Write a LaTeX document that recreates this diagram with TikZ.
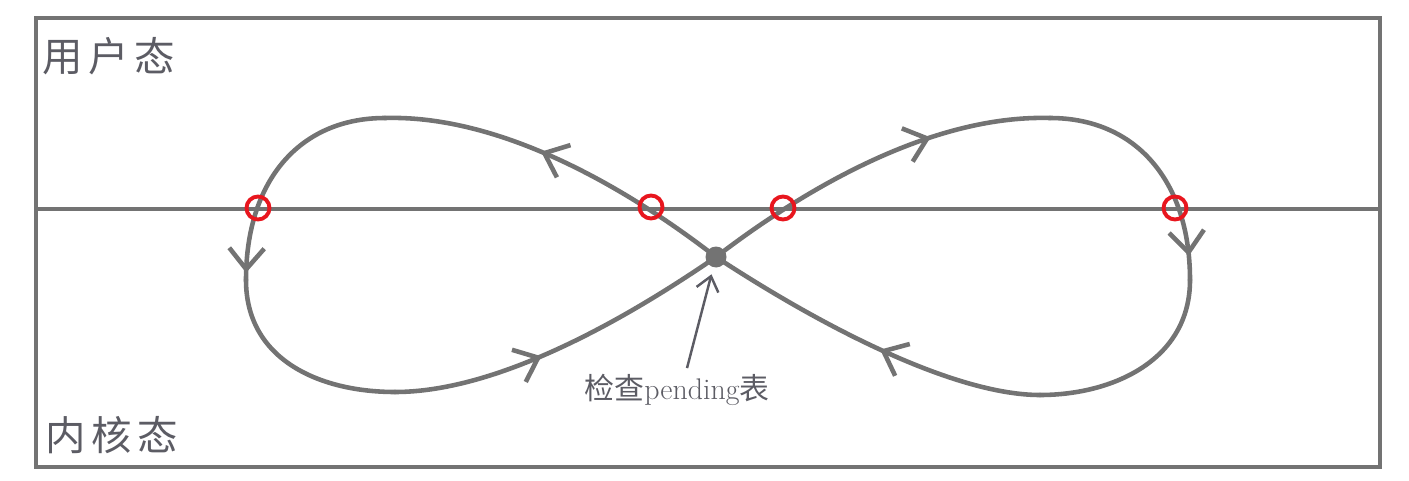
\documentclass[tikz,border=0pt]{standalone}
\usepackage{fontspec}
\newfontfamily\cjk{Noto Sans CJK SC}
\newfontfamily\cjkwide[LetterSpace=14]{Noto Sans CJK SC}
\usetikzlibrary{arrows.meta,decorations.markings}
\definecolor{loopgray}{RGB}{115,115,115}
\definecolor{textgray}{RGB}{92,92,100}
\definecolor{ringred}{RGB}{232,22,30}

\begin{document}
\begin{tikzpicture}[x=0.02cm, y=-0.02cm, frame/.style={draw=loopgray,line width=2.6pt}, loop/.style={draw=loopgray,line width=2.6pt,line cap=round}, flow/.style={postaction={decorate},decoration={markings,mark=at position #1 with {\arrow{Straight Barb[length=4.2mm,width=7mm]}}}}, ring/.style={circle,draw=ringred,line width=2.2pt,minimum size=0.46cm,inner sep=0pt}, dot/.style={circle,fill=loopgray,minimum size=0.42cm,inner sep=0pt}, lbl/.style={anchor=west,text=textgray,font=\cjkwide\fontsize{23}{27}\selectfont}, point/.style={-{Straight Barb[length=2.8mm,width=4.5mm]},draw=textgray,line width=1.4pt,shorten >=4pt}]
\useasboundingbox (0,0) rectangle (1409,480);
\draw[frame] (36,18) rectangle (1380,467);
\draw[frame] (36,209) -- (1380,209);
\node[lbl] (user) at (36,56) {用户态};
\node[lbl] (kernel) at (39,435) {内核态};

\node[dot] (chk) at (716,257) {};
% left loop
\draw[loop,flow=0.56] (chk.center) .. controls (610,175) and (490,115) .. (385,118);
\draw[loop,flow=0.97] (385,118) .. controls (300,118) and (246,180) .. (246,280);
\draw[loop] (246,280) .. controls (246,360) and (320,392) .. (395,392);
\draw[loop,flow=0.43] (395,392) .. controls (490,392) and (610,330) .. (chk.center);
% right loop
\draw[loop,flow=0.67] (chk.center) .. controls (823,175) and (943,115) .. (1050,118);
\draw[loop,flow=0.9] (1050,118) .. controls (1135,118) and (1190,180) .. (1190,280);
\draw[loop] (1190,280) .. controls (1190,360) and (1113,395) .. (1040,395);
\draw[loop,flow=0.47] (1040,395) .. controls (960,395) and (835,335) .. (chk.center);

\node[ring] (r1) at (258,208) {};
\node[ring] (r2) at (651,207) {};
\node[ring] (r3) at (783,208) {};
\node[ring] (r4) at (1175,208) {};

\node[text=textgray,font=\fontsize{17}{20}\selectfont] (pend) at (677,390) {{\cjk 检查}pending{\cjk 表}};
\draw[point] ([xshift=0.2cm]pend.north) -- (chk);
\end{tikzpicture}
\end{document}
